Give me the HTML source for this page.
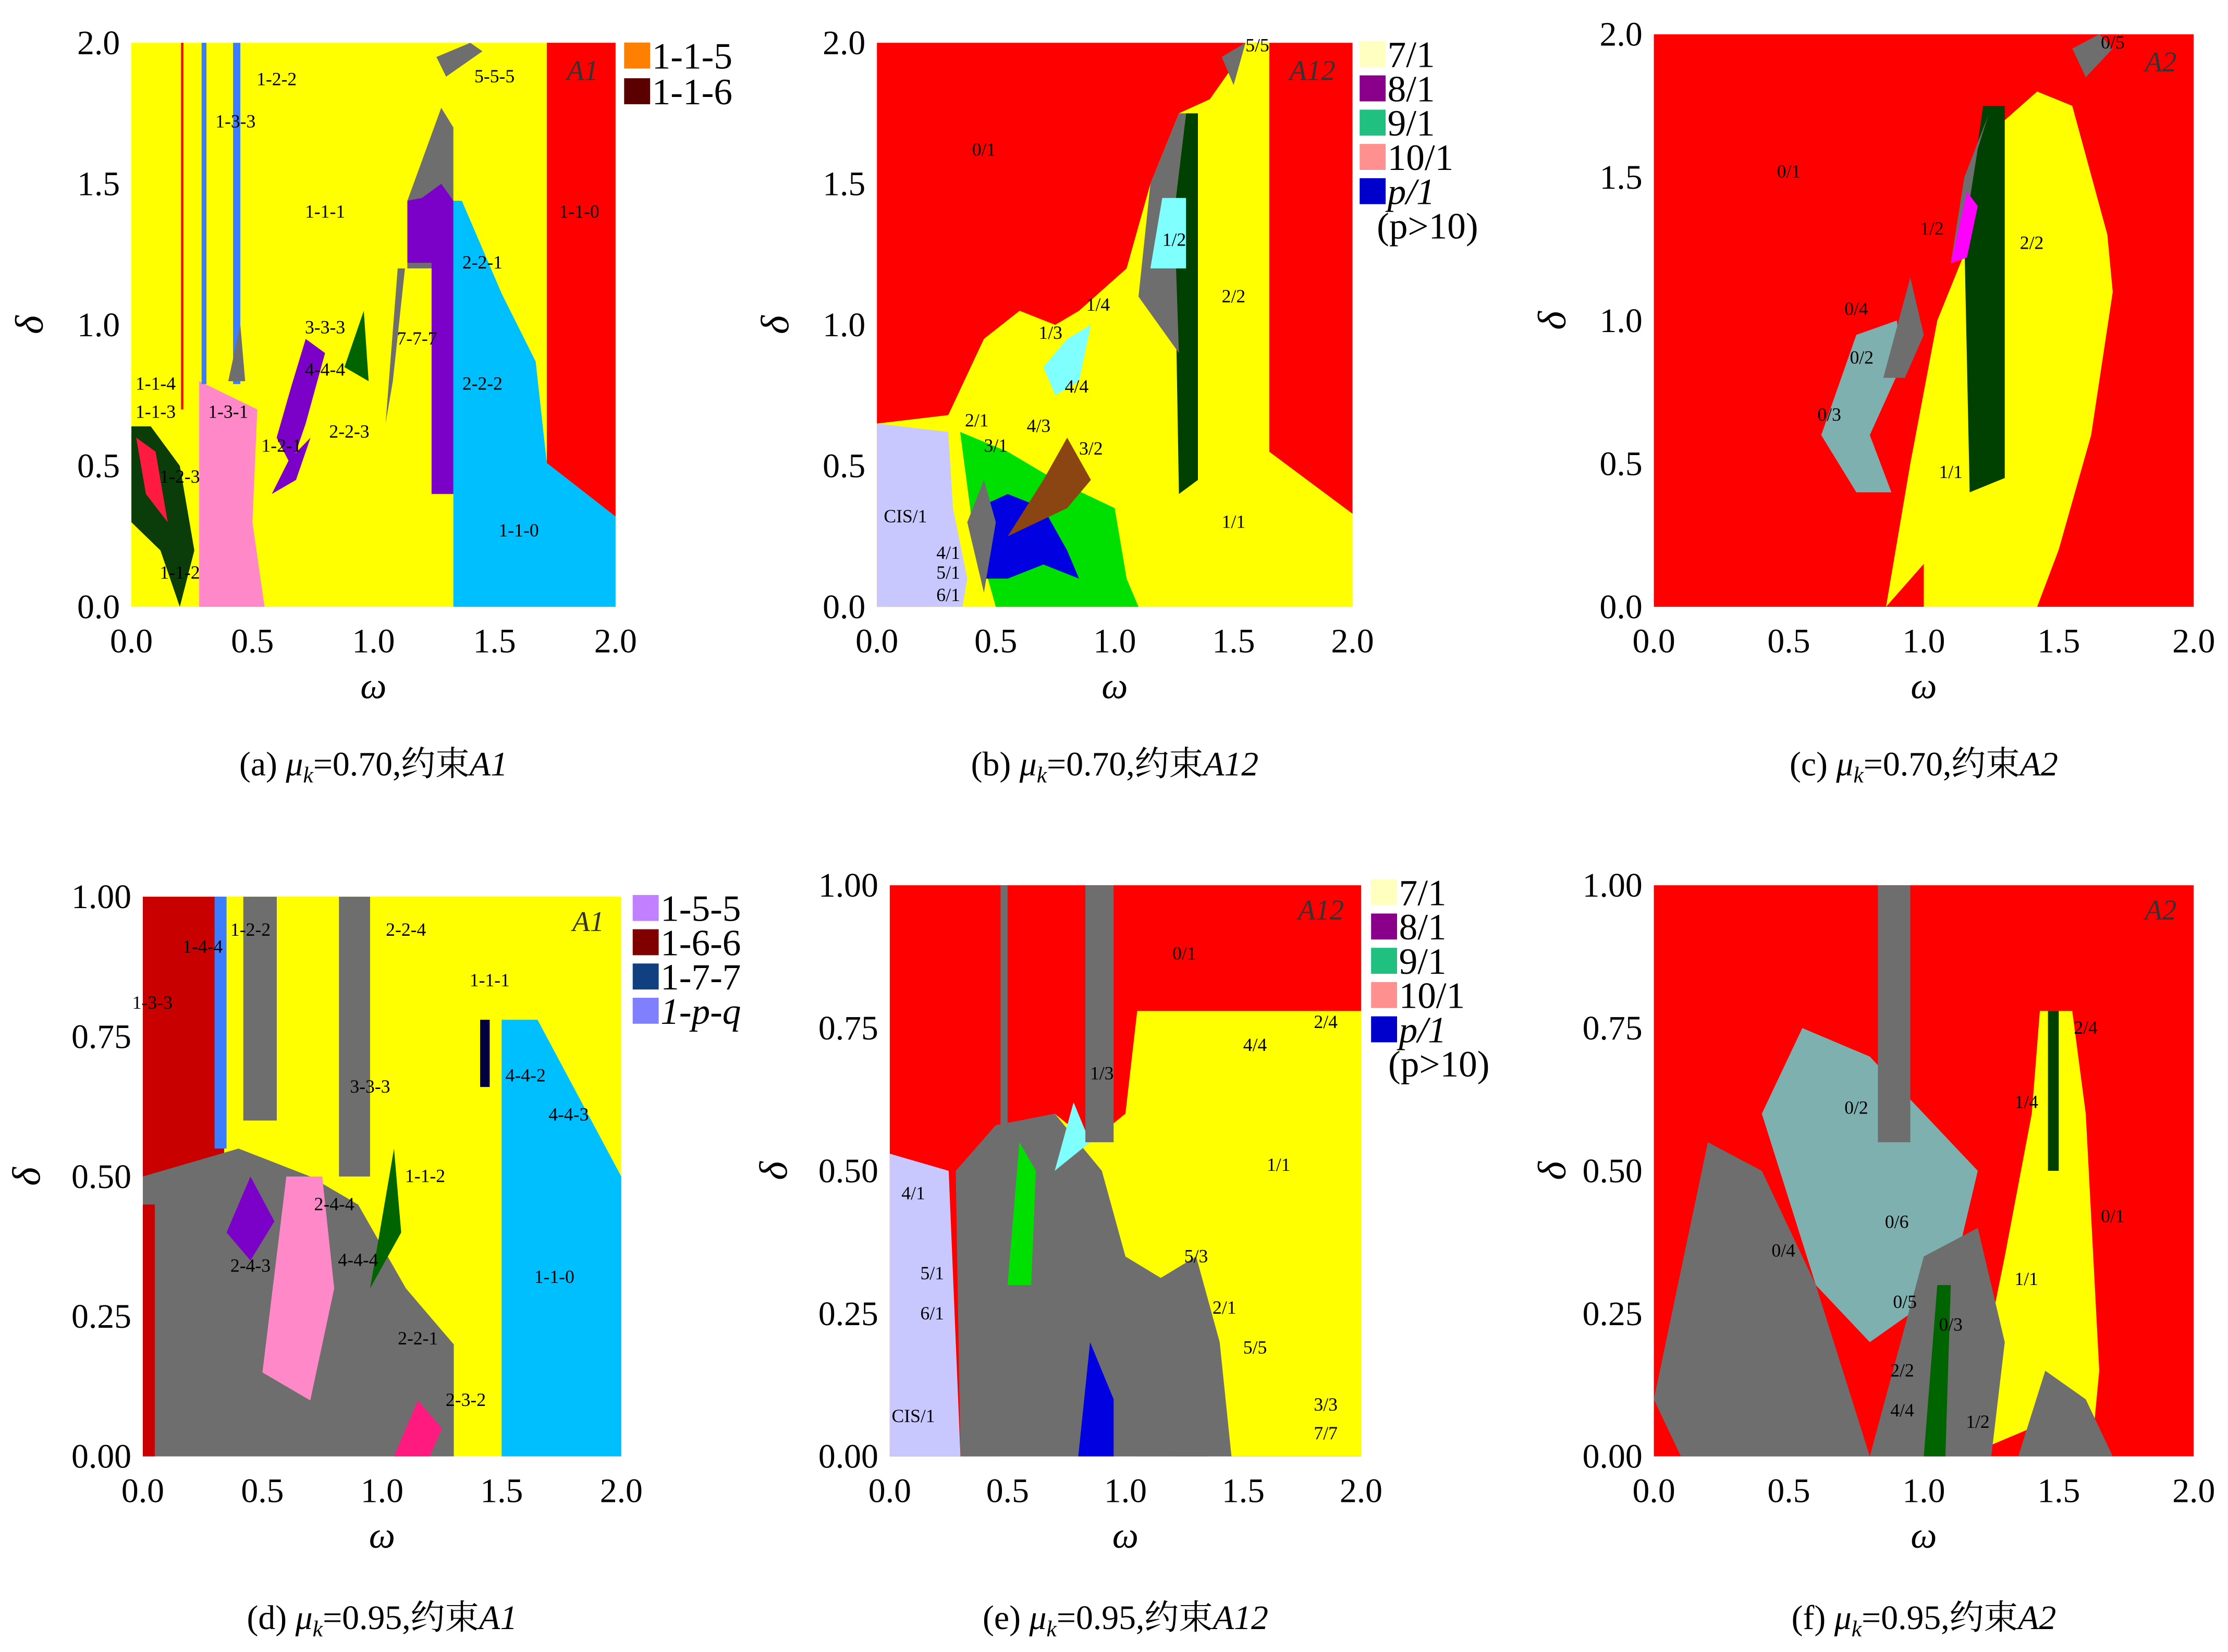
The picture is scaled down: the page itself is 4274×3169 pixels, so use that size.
<!DOCTYPE html>
<html><head><meta charset="utf-8">
<style>
html,body{margin:0;padding:0;background:#fff;}
svg{display:block;}
text{font-family:"Liberation Serif","Noto Serif CJK SC",serif;}
</style></head>
<body>
<svg id="fig" width="4274" height="3169" viewBox="0 0 1560 1157" preserveAspectRatio="none" font-family="Liberation Serif, Noto Serif CJK SC, serif" xmlns="http://www.w3.org/2000/svg"></svg>
<script>
const panelNames = ['a','b','c','d','e','f'];
const xTicks = [0.0,0.5,1.0,1.5,2.0];
const yTicksTop = [0.0,0.5,1.0,1.5,2.0];
const yTicksBottom = [0.00,0.25,0.50,0.75,1.00];
const captions = ['(a) ','(b) ','(c) ','(d) ','(e) ','(f) '];
const captionMu = ['0.70','0.70','0.70','0.95','0.95','0.95'];
const captionA = ['A1','A12','A2','A1','A12','A2'];
const bgColors = ['#ffff00','#ff0000','#ff0000','#ffff00','#ff0000','#ff0000'];

const regionsA = [
 ['#ff0000',[[1.716,2],[2,2],[2,0.32],[1.716,0.51]]],
 ['#00bfff',[[1.33,0],[1.33,1.44],[1.365,1.44],[1.53,1.11],[1.67,0.87],[1.716,0.51],[2,0.32],[2,0]]],
 ['#6e6e6e',[[1.14,1.44],[1.28,1.77],[1.33,1.7],[1.33,1.2],[1.14,1.2]]],
 ['#7b00c8',[[1.14,1.22],[1.14,1.44],[1.2,1.45],[1.28,1.5],[1.33,1.44],[1.33,0.4],[1.24,0.4],[1.24,1.22]]],
 ['#6e6e6e',[[1.05,0.65],[1.1,1.2],[1.13,1.2],[1.08,0.8]]],
 ['#006400',[[0.88,0.85],[0.96,1.05],[0.98,0.8]]],
 ['#7b00c8',[[0.6,0.6],[0.66,0.5],[0.72,0.65],[0.8,0.9],[0.72,0.95],[0.66,0.78]]],
 ['#7b00c8',[[0.58,0.4],[0.68,0.45],[0.74,0.6],[0.65,0.52]]],
 ['#ff88c8',[[0.28,0],[0.28,0.8],[0.4,0.75],[0.52,0.7],[0.5,0.3],[0.55,0]]],
 ['#3c7cff',[[0.29,0.79],[0.31,0.79],[0.31,2],[0.29,2]]],
 ['#3c7cff',[[0.42,0.79],[0.45,0.79],[0.45,2],[0.42,2]]],
 ['#ff0000',[[0.205,0.7],[0.215,0.7],[0.215,2],[0.205,2]]],
 ['#6e6e6e',[[0.4,0.8],[0.45,1.0],[0.47,0.8]]],
 ['#0b3d0b',[[0,0.64],[0.08,0.64],[0.2,0.5],[0.26,0.2],[0.2,0],[0.12,0.2],[0,0.3]]],
 ['#ff1a40',[[0.02,0.6],[0.1,0.55],[0.15,0.3],[0.06,0.4]]],
 ['#6e6e6e',[[1.26,1.95],[1.4,2],[1.45,1.97],[1.3,1.88]]]
];
const regionsB = [
 ['#ffff00',[[0,0],[0,0.65],[0.3,0.68],[0.45,0.95],[0.6,1.05],[0.75,1.0],[0.85,1.05],[1.05,1.2],[1.15,1.5],[1.27,1.75],[1.4,1.8],[1.5,1.92],[1.55,2],[1.65,2],[1.65,0.55],[2,0.33],[2,0]]],
 ['#00e000',[[0.35,0.62],[0.55,0.55],[0.75,0.45],[1.0,0.35],[1.05,0.1],[1.1,0],[0.5,0],[0.4,0.3]]],
 ['#0000e0',[[0.42,0.35],[0.55,0.4],[0.7,0.35],[0.8,0.2],[0.85,0.1],[0.7,0.15],[0.55,0.1],[0.45,0.1]]],
 ['#8b4513',[[0.55,0.25],[0.7,0.45],[0.8,0.6],[0.9,0.45],[0.8,0.35]]],
 ['#c8c8ff',[[0,0],[0,0.65],[0.3,0.62],[0.32,0.35],[0.38,0.1],[0.36,0]]],
 ['#6e6e6e',[[0.38,0.3],[0.45,0.45],[0.5,0.3],[0.45,0.05]]],
 ['#004000',[[1.27,0.4],[1.35,0.45],[1.35,1.75],[1.3,1.75],[1.25,1.4]]],
 ['#6e6e6e',[[1.1,1.1],[1.15,1.5],[1.27,1.75],[1.3,1.75],[1.25,1.4],[1.27,0.9]]],
 ['#80ffff',[[1.15,1.2],[1.3,1.2],[1.3,1.45],[1.2,1.45]]],
 ['#80ffff',[[0.7,0.85],[0.8,0.95],[0.9,1.0],[0.85,0.8],[0.75,0.75]]],
 ['#6e6e6e',[[1.45,1.95],[1.55,2],[1.5,1.85]]]
];
const regionsC = [
 ['#ffff00',[[0.86,0],[0.95,0.5],[1.05,1.0],[1.2,1.35],[1.3,1.7],[1.42,1.8],[1.55,1.75],[1.68,1.3],[1.7,1.1],[1.62,0.6],[1.5,0.2],[1.42,0],[1.0,0],[1.0,0.15]]],
 ['#004000',[[1.17,0.4],[1.3,0.45],[1.3,1.75],[1.22,1.75],[1.15,1.3]]],
 ['#6e6e6e',[[1.05,1.1],[1.15,1.3],[1.2,1.6],[1.24,1.72],[1.15,1.5],[1.1,1.2]]],
 ['#ff00ff',[[1.1,1.2],[1.16,1.45],[1.2,1.4],[1.16,1.22]]],
 ['#7fb0b0',[[0.62,0.6],[0.75,0.95],[0.9,1.0],[0.92,0.85],[0.8,0.6],[0.88,0.4],[0.75,0.4]]],
 ['#6e6e6e',[[0.85,0.8],[0.95,1.15],[1.0,0.95],[0.93,0.8]]],
 ['#6e6e6e',[[1.55,1.95],[1.65,2],[1.7,1.95],[1.6,1.85]]]
];
const regionsD = [
 ['#00bfff',[[1.5,0],[1.5,0.78],[1.65,0.78],[2,0.5],[2,0]]],
 ['#c80000',[[0,0.5],[0,1],[0.34,1],[0.34,0.5]]],
 ['#6e6e6e',[[0.82,0.5],[0.82,1],[0.95,1],[0.95,0.5]]],
 ['#3c7cff',[[0.3,0.55],[0.3,1],[0.35,1],[0.35,0.55]]],
 ['#6e6e6e',[[0.42,0.6],[0.42,1],[0.56,1],[0.56,0.6]]],
 ['#6e6e6e',[[0,0],[0,0.5],[0.4,0.55],[0.7,0.5],[0.9,0.45],[1.1,0.3],[1.3,0.2],[1.3,0]]],
 ['#ff88c8',[[0.5,0.15],[0.6,0.5],[0.75,0.5],[0.8,0.3],[0.7,0.1]]],
 ['#7b00c8',[[0.35,0.4],[0.45,0.5],[0.55,0.42],[0.45,0.35]]],
 ['#006400',[[0.95,0.3],[1.05,0.55],[1.08,0.4]]],
 ['#ff1a80',[[1.05,0],[1.15,0.1],[1.25,0.05],[1.2,0]]],
 ['#c80000',[[0,0],[0,0.45],[0.05,0.45],[0.05,0]]],
 ['#000040',[[1.41,0.66],[1.41,0.78],[1.45,0.78],[1.45,0.66]]]
];
const regionsE = [
 ['#ffff00',[[0.45,0],[0.45,0.35],[0.55,0.5],[0.7,0.6],[0.85,0.55],[1.0,0.6],[1.05,0.78],[2,0.78],[2,0]]],
 ['#c8c8ff',[[0,0],[0,0.53],[0.25,0.5],[0.3,0]]],
 ['#6e6e6e',[[0.3,0],[0.28,0.5],[0.45,0.58],[0.7,0.6],[0.9,0.5],[1.0,0.35],[1.2,0.3],[1.3,0.2],[1.35,0]]],
 ['#00e000',[[0.5,0.3],[0.55,0.55],[0.62,0.5],[0.6,0.3]]],
 ['#00e000',[[1.1,0.3],[1.2,0],[1.35,0],[1.25,0.3]]],
 ['#0000e0',[[0.8,0],[0.85,0.2],[0.95,0.1],[0.95,0]]],
 ['#80ffff',[[0.7,0.5],[0.78,0.62],[0.85,0.55]]],
 ['#6e6e6e',[[0.47,0.55],[0.47,1],[0.5,1],[0.5,0.55]]],
 ['#6e6e6e',[[0.83,0.55],[0.83,1],[0.95,1],[0.95,0.55]]],
 ['#6e6e6e',[[1.05,0],[1.1,0.3],[1.3,0.35],[1.4,0.2],[1.45,0]]]
];
const regionsF = [
 ['#ffff00',[[1.15,0],[1.3,0.35],[1.4,0.6],[1.43,0.78],[1.55,0.78],[1.6,0.6],[1.65,0.15],[1.62,0],[1.4,0.05]]],
 ['#7fb0b0',[[0.4,0.6],[0.55,0.75],[0.8,0.7],[1.0,0.6],[1.2,0.5],[1.1,0.3],[0.8,0.2],[0.6,0.3]]],
 ['#6e6e6e',[[0.0,0.1],[0.2,0.55],[0.4,0.5],[0.6,0.3],[0.8,0.0],[0.1,0]]],
 ['#6e6e6e',[[0.8,0],[1.0,0.35],[1.2,0.4],[1.3,0.2],[1.25,0]]],
 ['#6e6e6e',[[0.83,0.55],[0.83,1],[0.95,1],[0.95,0.55]]],
 ['#6e6e6e',[[1.35,0],[1.45,0.15],[1.6,0.1],[1.7,0]]],
 ['#004000',[[1.46,0.5],[1.5,0.5],[1.5,0.78],[1.46,0.78]]],
 ['#006400',[[1.0,0],[1.05,0.3],[1.1,0.3],[1.08,0]]]
];
const legendAText = ['1-1-5','1-1-6'];
const legendAColor = ['#ff8000','#5a0000'];
const legendBText = ['7/1','8/1','9/1','10/1','p/1'];
const legendBColor = ['#ffffc0','#8b008b','#20c080','#ff9090','#0000cc'];
const legendDText = ['1-5-5','1-6-6','1-7-7','1-p-q'];
const legendDColor = ['#c080ff','#800000','#104080','#8080ff'];

const labelsA = [['1-1-1',0.8,1.38],['1-1-0',1.85,1.38],['1-1-0',1.6,0.25],['2-2-1',1.45,1.2],['2-2-2',1.45,0.77],['1-2-2',0.6,1.85],['1-3-3',0.43,1.7],['3-3-3',0.8,0.97],['4-4-4',0.8,0.82],['7-7-7',1.18,0.93],['2-2-3',0.9,0.6],['1-2-1',0.62,0.55],['1-3-1',0.4,0.67],['1-1-4',0.1,0.77],['1-1-3',0.1,0.67],['1-2-3',0.2,0.44],['1-1-2',0.2,0.1],['5-5-5',1.5,1.86]];
const labelsB = [['0/1',0.45,1.6],['1/1',1.5,0.28],['1/2',1.25,1.28],['2/2',1.5,1.08],['CIS/1',0.12,0.3],['2/1',0.42,0.64],['3/1',0.5,0.55],['4/3',0.68,0.62],['3/2',0.9,0.54],['1/3',0.73,0.95],['1/4',0.93,1.05],['4/4',0.84,0.76],['4/1',0.3,0.17],['5/1',0.3,0.1],['6/1',0.3,0.02],['5/5',1.6,1.97]];
const labelsC = [['0/1',0.5,1.5],['1/1',1.1,0.45],['1/2',1.03,1.3],['2/2',1.4,1.25],['0/4',0.75,1.02],['0/2',0.77,0.85],['0/3',0.65,0.65],['0/5',1.7,1.95]];
const labelsD = [['1-1-1',1.45,0.84],['1-1-0',1.72,0.31],['2-2-4',1.1,0.93],['4-4-2',1.6,0.67],['4-4-3',1.78,0.6],['1-1-2',1.18,0.49],['2-2-1',1.15,0.2],['2-3-2',1.35,0.09],['1-2-2',0.45,0.93],['1-4-4',0.25,0.9],['1-3-3',0.04,0.8],['3-3-3',0.95,0.65],['2-4-4',0.8,0.44],['4-4-4',0.9,0.34],['2-4-3',0.45,0.33]];
const labelsE = [['0/1',1.25,0.87],['1/1',1.65,0.5],['CIS/1',0.1,0.06],['1/3',0.9,0.66],['4/4',1.55,0.71],['2/4',1.85,0.75],['2/1',1.42,0.25],['5/3',1.3,0.34],['5/5',1.55,0.18],['3/3',1.85,0.08],['7/7',1.85,0.03],['4/1',0.1,0.45],['5/1',0.18,0.31],['6/1',0.18,0.24]];
const labelsF = [['0/1',1.7,0.41],['1/1',1.38,0.3],['2/4',1.6,0.74],['1/4',1.38,0.61],['0/2',0.75,0.6],['0/4',0.48,0.35],['0/6',0.9,0.4],['0/3',1.1,0.22],['0/5',0.93,0.26],['2/2',0.92,0.14],['4/4',0.92,0.07],['1/2',1.2,0.05]];

const panelRegions = [regionsA,regionsB,regionsC,regionsD,regionsE,regionsF];
const panelLabels = [labelsA,labelsB,labelsC,labelsD,labelsE,labelsF];
const panelBox = [[92,431,30,425],[614,947,30,425],[1158,1536,24,425],[100,435,628,1020],[623,953,620,1020],[1158,1536,620,1020]];
const panelDmax = [2,2,2,1,1,1];
const NS='http://www.w3.org/2000/svg';
const svg=document.getElementById('fig');
function el(tag,attrs,parent){const e=document.createElementNS(NS,tag);for(const k in attrs)e.setAttribute(k,attrs[k]);(parent||svg).appendChild(e);return e;}
function txt(s,x,y,size,anchor,parent,style){const t=el('text',{x:x,y:y,'font-size':size,'text-anchor':anchor||'start','fill':'#000','font-family':'Liberation Serif, serif'},parent);if(style)t.setAttribute('font-style',style);t.textContent=s;return t;}

panelNames.forEach((p,i)=>{
 const [x0,x1,y0,y1]=panelBox[i]; const dmax=panelDmax[i];
 const X=w=>x0+(w/2)*(x1-x0); const Y=d=>y1-(d/dmax)*(y1-y0);
 const g=el('g',{});
 
 
 const bg=el('rect',{x:x0,y:y0,width:x1-x0,height:y1-y0,fill:bgColors[i]},g);
 
 
 panelRegions[i].forEach((r,j)=>{
  const poly=el('polygon',{points:r[1].map(q=>X(q[0])+','+Y(q[1])).join(' '),fill:r[0]},g);
  
  
 });
 panelLabels[i].forEach(l=>{
  const t=txt(l[0],X(l[1]),Y(l[2]),13,'middle',g);
  
  
 });
 const tag=txt(captionA[i],x1-12,y0+(i<3?26:24),20,'end',g,'italic');
 tag.setAttribute('fill','#333');
 
 
 xTicks.forEach(v=>{
  const t=txt(v.toFixed(1),X(v),y1+32,24,'middle',g);
  
  
 });
 const yt = i<3?yTicksTop:yTicksBottom;
 yt.forEach(v=>{
  const t=txt(i<3?v.toFixed(1):v.toFixed(2),x0-8,Y(v)+8,24,'end',g);
  
  
 });
 const xt=txt('ω',(x0+x1)/2,y1+64,26,'middle',g,'italic');
 
 
 const yl=txt('δ',0,0,28,'middle',g,'italic');
 yl.setAttribute('transform','translate('+(x0-(i===3||i===4?72:62))+','+((y0+y1)/2)+') rotate(-90)');
 
 
 const cap=el('text',{x:(x0+x1)/2,y:i<3?543:1141,'font-size':24,'text-anchor':'middle','font-family':'Liberation Serif, Noto Serif CJK SC, serif'},g);
 
 
 cap.innerHTML=captions[i]+'<tspan font-style="italic">μ</tspan><tspan font-style="italic" font-size="16" dy="5">k</tspan><tspan dy="-5">='+captionMu[i]+',约束</tspan><tspan font-style="italic">'+captionA[i]+'</tspan>';
});
function legend(texts,colors,x,y,step,size,extra){
 const g=el('g',{});
 
 
 texts.forEach((s,k)=>{
  const r=el('rect',{x:x,y:y+k*step-size*0.7,width:size*0.7,height:size*0.7,fill:colors[k]},g);
  
  
  const t=txt(s,x+size*0.75,y+k*step,size,'start',g,s.indexOf('p')>=0?'italic':null);
  
  
 });
 if(extra){const t=txt(extra,x+12,y+texts.length*step,size,'start',g);}
}
legend(legendAText,legendAColor,437,48,25,26);
legend(legendBText,legendBColor,952,47,24,26,'(p>10)');
legend(legendDText,legendDColor,443,645,24,26);
legend(legendBText,legendBColor,960,634,24,26,'(p>10)');
</script>
</body></html>
